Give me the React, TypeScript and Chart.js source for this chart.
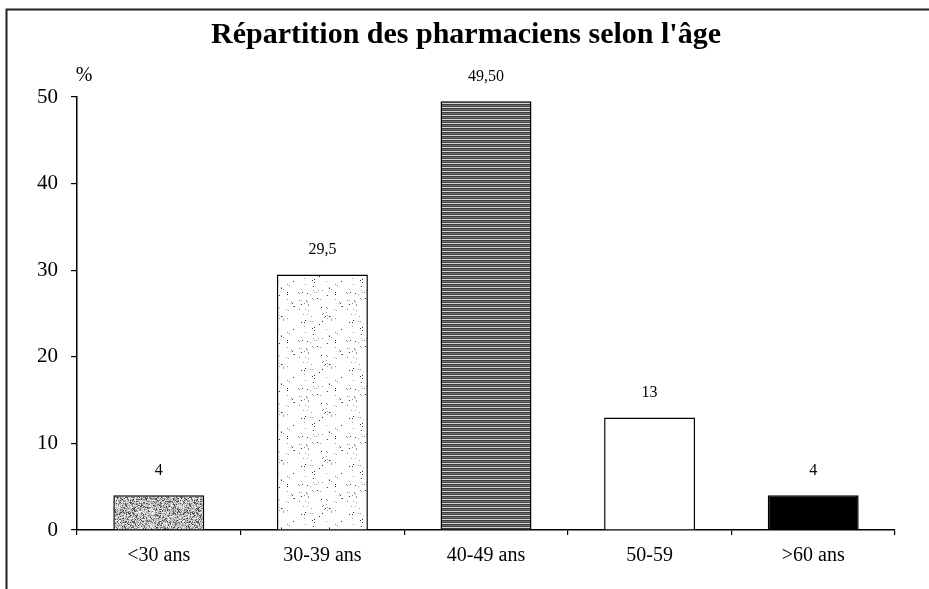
import React, { useEffect, useRef } from "react";
import { Chart, registerables } from "chart.js";

Chart.register(...registerables);

const titleText = "Répartition des pharmaciens selon l'âge";
const unitLabel = "%";
const categories = ["<30 ans", "30-39 ans", "40-49 ans", "50-59", ">60 ans"];
const values = [4, 29.5, 49.5, 13, 4];
const valueLabels = ["4", "29,5", "49,50", "13", "4"];
const yMin = 0;
const yMax = 50;
const yStep = 10;

const FONT = "'Liberation Serif', 'Times New Roman', serif";

function hash(x: number, y: number): number {
  let n = Math.imul(x, 374761393) + Math.imul(y, 668265263);
  n = Math.imul(n ^ (n >>> 13), 1274126177);
  n = n ^ (n >>> 16);
  return (n >>> 0) % 1000;
}

function makeTile(w: number, h: number, paint: (c: CanvasRenderingContext2D) => void) {
  const cv = document.createElement("canvas");
  cv.width = w;
  cv.height = h;
  const c = cv.getContext("2d")!;
  paint(c);
  return cv;
}

function buildFills(ctx: CanvasRenderingContext2D) {
  const noise = makeTile(64, 64, (c) => {
    c.fillStyle = "#c4c4c4";
    c.fillRect(0, 0, 64, 64);
    for (let x = 0; x < 64; x++) {
      for (let y = 0; y < 64; y++) {
        const v = hash(x, y);
        if (v < 330) {
          c.fillStyle = v < 140 ? "#4a4a4a" : "#7c7c7c";
          c.fillRect(x, y, 1, 1);
        } else if (v > 820) {
          c.fillStyle = "#f4f4f4";
          c.fillRect(x, y, 1, 1);
        }
      }
    }
  });
  const dots = makeTile(48, 48, (c) => {
    c.fillStyle = "#ffffff";
    c.fillRect(0, 0, 48, 48);
    for (let x = 0; x < 48; x++) {
      for (let y = 0; y < 48; y++) {
        const v = hash(x + 101, y + 57);
        if (v < 40) {
          c.fillStyle = v < 12 ? "#333333" : "#9a9a9a";
          c.fillRect(x, y, 1, 1);
        }
      }
    }
  });
  const lines = makeTile(16, 4, (c) => {
    c.fillStyle = "#3c3c3c";
    c.fillRect(0, 0, 16, 1);
    c.fillStyle = "#6a6a6a";
    c.fillRect(0, 1, 16, 1);
    c.fillStyle = "#4a4a4a";
    c.fillRect(0, 2, 16, 1);
    c.fillStyle = "#d4d4d4";
    c.fillRect(0, 3, 16, 1);
  });
  return [
    ctx.createPattern(noise, "repeat")!,
    ctx.createPattern(dots, "repeat")!,
    ctx.createPattern(lines, "repeat")!,
    "#ffffff",
    "#000000",
  ];
}

const decorPlugin = {
  id: "decor",
  afterDraw(chart: any) {
    const { ctx, chartArea } = chart;
    ctx.save();
    // frame lines (top and left)
    ctx.strokeStyle = "#222";
    ctx.lineWidth = 2;
    ctx.beginPath();
    ctx.moveTo(929, 9.5);
    ctx.lineTo(6.5, 9.5);
    ctx.lineTo(6.5, 589);
    ctx.stroke();

    // title
    ctx.fillStyle = "#000";
    ctx.font = `bold 30px ${FONT}`;
    ctx.textAlign = "center";
    ctx.textBaseline = "alphabetic";
    ctx.fillText(titleText, 466, 43);

    // unit label
    ctx.font = `20px ${FONT}`;
    ctx.textBaseline = "middle";
    ctx.fillText(unitLabel, chartArea.left + 7, 76);

    // value labels
    const meta = chart.getDatasetMeta(0);
    ctx.font = `16px ${FONT}`;
    meta.data.forEach((bar: any, i: number) => {
      ctx.fillText(valueLabels[i], bar.x, bar.y - 25);
    });
    ctx.restore();
  },
};

export default function App() {
  const ref = useRef<HTMLCanvasElement | null>(null);

  useEffect(() => {
    const canvas = ref.current!;
    const ctx = canvas.getContext("2d")!;
    const fills = buildFills(ctx);
    const chart = new Chart(ctx, {
      type: "bar",
      data: {
        labels: categories,
        datasets: [
          {
            data: values,
            backgroundColor: fills as any,
            borderColor: "#000",
            borderWidth: 1.5,
            categoryPercentage: 1,
            barPercentage: 0.556,
          },
        ],
      },
      options: {
        responsive: false,
        animation: false,
        devicePixelRatio: 1,
        layout: { padding: { top: 97, left: 0, right: 34, bottom: 0 } },
        plugins: {
          legend: { display: false },
          tooltip: { enabled: false },
          title: { display: false },
        },
        scales: {
          x: {
            type: "category",
            offset: true,
            border: { display: true, color: "#000", width: 1.5 },
            grid: {
              display: true,
              offset: true,
              drawOnChartArea: false,
              drawTicks: true,
              tickLength: 5,
              color: "#000",
              lineWidth: 1.2,
            },
            ticks: {
              color: "#000",
              font: { family: FONT, size: 20 },
              padding: 9,
              autoSkip: false,
              maxRotation: 0,
            },
            afterFit: (s: any) => {
              s.height = 59;
            },
          },
          y: {
            min: yMin,
            max: yMax,
            border: { display: true, color: "#000", width: 1.5 },
            grid: {
              display: true,
              drawOnChartArea: false,
              drawTicks: true,
              tickLength: 6,
              color: "#000",
              lineWidth: 1.2,
            },
            ticks: {
              stepSize: yStep,
              color: "#000",
              font: { family: FONT, size: 21 },
              padding: 13,
            },
            afterFit: (s: any) => {
              s.width = 77;
            },
          },
        },
      },
      plugins: [decorPlugin],
    });
    return () => chart.destroy();
  }, []);

  return (
    <div style={{ position: "absolute", left: 0, top: 0, width: 929, height: 589, background: "#fff" }}>
      <canvas ref={ref} width={929} height={589} style={{ display: "block" }} />
    </div>
  );
}
